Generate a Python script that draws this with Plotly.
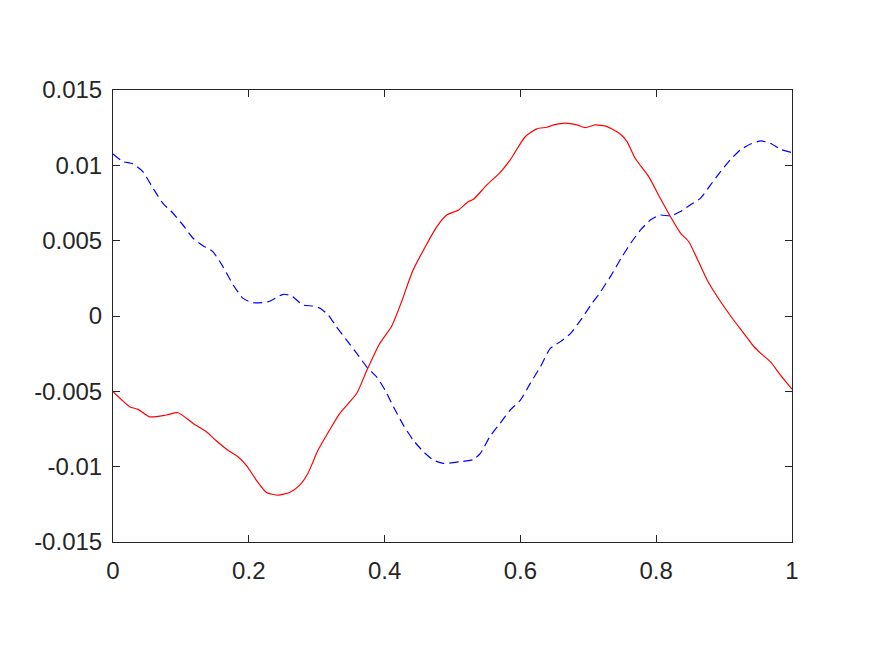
import plotly.graph_objects as go

red_x = [0, 0.0245, 0.037, 0.054, 0.0786, 0.0958, 0.118, 0.1376, 0.152, 0.172, 0.184, 0.197, 0.211, 0.226, 0.243, 0.260, 0.275, 0.287, 0.302, 0.319, 0.334, 0.359, 0.374, 0.393, 0.41, 0.425, 0.442, 0.477, 0.4916, 0.509, 0.523, 0.531, 0.5506, 0.570, 0.585, 0.607, 0.624, 0.639, 0.649, 0.666, 0.683, 0.6956, 0.710, 0.7276, 0.747, 0.757, 0.769, 0.789, 0.806, 0.821, 0.836, 0.848, 0.860, 0.875, 0.890, 0.912, 0.929, 0.944, 0.954, 0.968, 0.983, 1.0]
red_y = [-0.00503, -0.00602, -0.0062, -0.00669, -0.00657, -0.00642, -0.00713, -0.00768, -0.00828, -0.0090, -0.00934, -0.00994, -0.01089, -0.01171, -0.01189, -0.01171, -0.01122, -0.01045, -0.0089, -0.00757, -0.00646, -0.00513, -0.00359, -0.00181, -0.00071, 0.00095, 0.00305, 0.00593, 0.0067, 0.00704, 0.00759, 0.00775, 0.0087, 0.00952, 0.01036, 0.0119, 0.01242, 0.01253, 0.01268, 0.0128, 0.01268, 0.0125, 0.01268, 0.01257, 0.01208, 0.01157, 0.01047, 0.00925, 0.00781, 0.00659, 0.00549, 0.00493, 0.00383, 0.00239, 0.00128, -0.00015, -0.00115, -0.00204, -0.00248, -0.00303, -0.00392, -0.00485]

blue_x = [0, 0.0146, 0.0294, 0.044, 0.0589, 0.0736, 0.0884, 0.103, 0.118, 0.1326, 0.147, 0.162, 0.177, 0.1916, 0.206, 0.2285, 0.2506, 0.263, 0.280, 0.295, 0.305, 0.317, 0.329, 0.344, 0.359, 0.3736, 0.388, 0.4006, 0.413, 0.4276, 0.442, 0.457, 0.4718, 0.4866, 0.511, 0.531, 0.541, 0.555, 0.570, 0.585, 0.600, 0.6145, 0.6295, 0.644, 0.659, 0.674, 0.6887, 0.7055, 0.713, 0.7325, 0.7497, 0.764, 0.777, 0.7914, 0.806, 0.821, 0.8357, 0.850, 0.865, 0.880, 0.8947, 0.909, 0.924, 0.939, 0.954, 0.968, 0.983, 1.0]
blue_y = [0.01076, 0.01025, 0.0101, 0.00958, 0.00848, 0.00748, 0.00682, 0.00604, 0.00516, 0.00467, 0.00427, 0.00327, 0.00206, 0.00117, 0.00088, 0.00095, 0.00144, 0.00133, 0.00073, 0.00066, 0.00051, 0.00007, -0.00071, -0.0016, -0.00248, -0.00337, -0.00403, -0.00491, -0.00602, -0.00724, -0.00823, -0.0090, -0.00956, -0.00978, -0.00967, -0.00952, -0.00912, -0.00801, -0.00713, -0.00624, -0.00558, -0.00447, -0.00337, -0.00215, -0.0017, -0.00115, -0.00027, 0.00084, 0.00128, 0.00261, 0.00394, 0.00493, 0.00571, 0.00637, 0.0067, 0.00664, 0.00693, 0.00737, 0.00781, 0.0087, 0.00958, 0.01036, 0.01102, 0.01142, 0.01162, 0.01147, 0.01107, 0.01084]

x_ticks = [0, 0.2, 0.4, 0.6, 0.8, 1]
x_labels = ["0", "0.2", "0.4", "0.6", "0.8", "1"]
y_ticks = [-0.015, -0.01, -0.005, 0, 0.005, 0.01, 0.015]
y_labels = ["-0.015", "-0.01", "-0.005", "0", "0.005", "0.01", "0.015"]

fig = go.Figure()
fig.add_trace(go.Scatter(x=red_x, y=red_y, mode="lines", line=dict(color="#ff0000", width=1.2, shape="spline", smoothing=0.6)))
fig.add_trace(go.Scatter(x=blue_x, y=blue_y, mode="lines", line=dict(color="#0000ff", width=1.2, dash="9px,5px", shape="spline", smoothing=0.6)))

axis_common = dict(showgrid=False, zeroline=False, showline=True, linecolor="#262626", linewidth=1,
                   mirror="ticks", ticks="inside", ticklen=7, tickcolor="#262626",
                   tickfont=dict(family="Liberation Sans, Arial, sans-serif", size=24, color="#262626"))
fig.update_xaxes(range=[0, 1], tickvals=x_ticks, ticktext=x_labels, ticklabelstandoff=7, **axis_common)
fig.update_yaxes(range=[-0.015, 0.015], tickvals=y_ticks, ticktext=y_labels, ticklabelstandoff=5, **axis_common)
fig.update_layout(width=875, height=657, showlegend=False, plot_bgcolor="white", paper_bgcolor="white",
                  margin=dict(l=113, r=83, t=90, b=115))
fig.write_html("out.html")
